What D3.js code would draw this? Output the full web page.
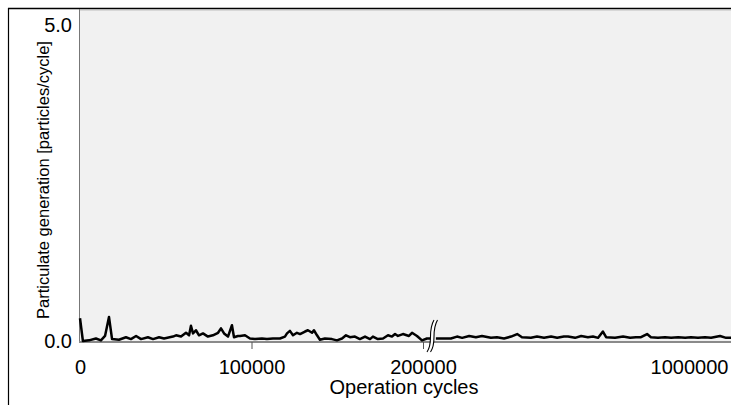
<!DOCTYPE html>
<html>
<head>
<meta charset="utf-8">
<script src="https://cdn.jsdelivr.net/npm/d3@7"></script>
<style>
  body { margin: 0; background: #fff; }
  svg { display: block; font-family: "Liberation Sans", Arial, Helvetica, sans-serif; }
</style>
</head>
<body>
<div id="chart"></div>
<script>
// cycles before the axis break (0 - 200000)
var cyclesLeft = [0, 1700, 5200, 9300, 12200, 14600, 16900, 18700, 22700, 26800, 29700, 32700, 35600,
  39600, 42600, 46100, 49000, 54200, 56000, 58900, 61800, 63600, 64700, 65900, 67600, 69400, 71700,
  74600, 77500, 80500, 82200, 84000, 86300, 88600, 89800, 92100, 93300, 96200, 99100, 102000, 106100,
  109000, 112500, 116600, 119500, 120700, 122400, 124200, 126500, 128300, 131200, 132900, 135300,
  136400, 138200, 139900, 142800, 146900, 149800, 152800, 155100, 157400, 160300, 163200, 166200,
  169100, 170800, 173700, 176700, 179600, 181900, 183700, 185400, 188300, 191800, 193600, 196500,
  199400, 202300, 204500];
var particlesLeft = [0.36, 0.00, 0.01, 0.04, 0.01, 0.08, 0.38, 0.03, 0.02, 0.06, 0.03, 0.08, 0.03,
  0.06, 0.03, 0.06, 0.04, 0.07, 0.09, 0.07, 0.13, 0.09, 0.24, 0.12, 0.17, 0.09, 0.12,
  0.07, 0.09, 0.13, 0.20, 0.12, 0.07, 0.25, 0.06, 0.08, 0.08, 0.09, 0.04, 0.03, 0.04,
  0.03, 0.04, 0.04, 0.07, 0.12, 0.16, 0.09, 0.13, 0.11, 0.15, 0.17, 0.13,
  0.17, 0.09, 0.02, 0.04, 0.03, 0.01, 0.04, 0.09, 0.06, 0.07, 0.03, 0.07,
  0.03, 0.07, 0.03, 0.04, 0.09, 0.07, 0.11, 0.08, 0.11, 0.08, 0.13, 0.08,
  0.01, 0.04, 0.04];

// cycles after the axis break
var cyclesRight = [209000, 225000, 256000, 275000, 291000, 313000, 334000, 353000, 381000, 400000,
  422000, 444000, 463000, 478000, 506000, 525000, 547000, 569000, 588000, 609000, 622000, 644000,
  663000, 684000, 700000, 716000, 731000, 741000, 769000, 794000, 816000, 834000, 850000, 869000,
  881000, 903000, 925000, 944000, 966000, 988000, 1006000, 1028000, 1050000, 1069000, 1097000,
  1116000, 1131000, 1159000];
var particlesRight = [0.04, 0.04, 0.04, 0.07, 0.05, 0.08, 0.06, 0.08, 0.05, 0.06,
  0.04, 0.07, 0.11, 0.06, 0.05, 0.07, 0.05, 0.07, 0.05, 0.07, 0.07, 0.05,
  0.08, 0.06, 0.07, 0.05, 0.15, 0.06, 0.05, 0.07, 0.05, 0.06, 0.06, 0.11,
  0.06, 0.05, 0.06, 0.05, 0.06, 0.05, 0.06, 0.05, 0.06, 0.05, 0.08,
  0.05, 0.05, 0.05];

var xTicksLeft = [0, 100000, 200000];
var xTicksRight = [1000000];
var yTicks = [0.0, 5.0];

const width = 731;
const height = 405;
const plotLeft = 80, plotTop = 9, plotBottom = 341;

const svg = d3.select("#chart").append("svg")
  .attr("width", width)
  .attr("height", height);

const xLeft = d3.scaleLinear().domain([0, 200000]).range([80, 423]);
const xRight = d3.scaleLinear().domain([200000, 1000000]).range([433, 689]);
const y = d3.scaleLinear().domain([0, 5]).range([plotBottom, 25]);

// outer frame
svg.append("line").attr("x1", 8).attr("x2", width).attr("y1", 8.5).attr("y2", 8.5)
  .attr("stroke", "#000").attr("stroke-width", 1.5);
svg.append("line").attr("x1", 8.5).attr("x2", 8.5).attr("y1", 8).attr("y2", height)
  .attr("stroke", "#000").attr("stroke-width", 1.2);

// plot background
svg.append("rect")
  .attr("x", plotLeft).attr("y", plotTop)
  .attr("width", width - plotLeft).attr("height", plotBottom - plotTop)
  .attr("fill", "#f1f1f1");
svg.append("line").attr("x1", plotLeft).attr("x2", width).attr("y1", 9.8).attr("y2", 9.8)
  .attr("stroke", "#9a9a9a").attr("stroke-width", 1);

// y axis
const yAxis = svg.append("g")
  .attr("transform", "translate(" + plotLeft + ",0)")
  .call(d3.axisLeft(y).tickValues(yTicks).tickSize(0).tickPadding(8).tickFormat(d3.format(".1f")));
yAxis.select(".domain").remove();
yAxis.selectAll("text").style("font-size", "20px").attr("fill", "#000");
svg.append("line").attr("x1", plotLeft - 0.5).attr("x2", plotLeft - 0.5)
  .attr("y1", plotTop).attr("y2", plotBottom + 2)
  .attr("stroke", "#777").attr("stroke-width", 1);

// x axis baseline
svg.append("line").attr("x1", plotLeft - 1).attr("x2", width)
  .attr("y1", plotBottom + 1).attr("y2", plotBottom + 1)
  .attr("stroke", "#8a8a8a").attr("stroke-width", 2);

const xAxisL = svg.append("g")
  .attr("transform", "translate(0," + (plotBottom + 1) + ")")
  .call(d3.axisBottom(xLeft).tickValues(xTicksLeft).tickSize(7).tickPadding(11).tickFormat(d3.format("d")));
xAxisL.select(".domain").remove();
xAxisL.selectAll(".tick line").attr("stroke", "#555").filter(d => d === 0).remove();
xAxisL.selectAll("text").style("font-size", "20px").attr("fill", "#000");

const xAxisR = svg.append("g")
  .attr("transform", "translate(0," + (plotBottom + 1) + ")")
  .call(d3.axisBottom(xRight).tickValues(xTicksRight).tickSize(0).tickPadding(18).tickFormat(d3.format("d")));
xAxisR.select(".domain").remove();
xAxisR.selectAll("text").style("font-size", "20px").attr("fill", "#000");

// data lines
const lineL = d3.line().x((d, i) => xLeft(cyclesLeft[i])).y(d => y(d));
const lineR = d3.line().x((d, i) => xRight(cyclesRight[i])).y(d => y(d));

svg.append("path").datum(particlesLeft)
  .attr("d", lineL).attr("fill", "none").attr("stroke", "#000")
  .attr("stroke-width", 2.5).attr("stroke-linejoin", "round");
svg.append("path").datum(particlesRight)
  .attr("d", lineR).attr("fill", "none").attr("stroke", "#000")
  .attr("stroke-width", 2.5).attr("stroke-linejoin", "round");

// axis break mark
const bx = 432, by = 336;
function curve(o) {
  return [[bx - 5 + o, by + 16], [bx + 2 + o, by + 6], [bx - 5 + o, by - 4], [bx + 2 + o, by - 16]];
}
const c1 = curve(0), c2 = curve(3.5);
const pathStr = (c) => "M" + c[0] + "C" + c[1] + " " + c[2] + " " + c[3];
svg.append("path")
  .attr("d", pathStr(c1) + "L" + c2[3] + "C" + c2[2] + " " + c2[1] + " " + c2[0] + "Z")
  .attr("fill", "#fff").attr("stroke", "none");
svg.append("path").attr("d", pathStr(c1)).attr("fill", "none").attr("stroke", "#000").attr("stroke-width", 1.1);
svg.append("path").attr("d", pathStr(c2)).attr("fill", "none").attr("stroke", "#000").attr("stroke-width", 1.1);

// axis titles
svg.append("text")
  .attr("x", 404).attr("y", 394)
  .attr("text-anchor", "middle")
  .style("font-size", "20px")
  .text("Operation cycles");

svg.append("text")
  .attr("transform", "translate(48.5,180) rotate(-90)")
  .attr("text-anchor", "middle")
  .style("font-size", "16.5px")
  .text("Particulate generation [particles/cycle]");
</script>
</body>
</html>
